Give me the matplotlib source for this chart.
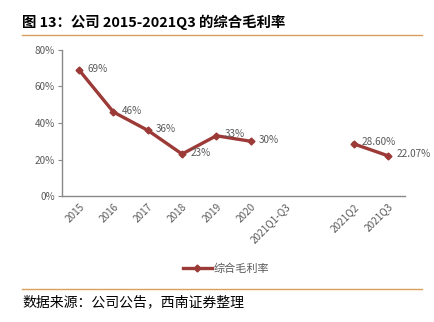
import numpy as np
import matplotlib
matplotlib.use("Agg")
import matplotlib.pyplot as plt
from matplotlib.lines import Line2D

plt.rcParams['font.family'] = ['Noto Sans CJK SC', 'DejaVu Sans']

categories = ["2015", "2016", "2017", "2018", "2019", "2020", "2021Q1-Q3", "", "2021Q2", "2021Q3"]
values = [69, 46, 36, 23, 33, 30, np.nan, np.nan, 28.60, 22.07]
labels = ["69%", "46%", "36%", "23%", "33%", "30%", "", "", "28.60%", "22.07%"]
yticks = [0, 20, 40, 60, 80]
series_name = "综合毛利率"

red = "#9B3A36"
gray = "#595959"

fig = plt.figure(figsize=(4.34, 3.22), dpi=100)
ax = fig.add_axes([62/434, 1-196/322, (405-62)/434, (196-50)/322])

x = np.arange(len(categories))
ax.plot(x, values, color=red, lw=2.4, marker='D', ms=3.5, zorder=3)
for xi, v, lab in zip(x, values, labels):
    if lab:
        ax.annotate(lab, (xi, v), xytext=(6, 1), textcoords='offset points',
                    ha='left', va='center', fontsize=7.2, color=gray)

ax.set_xlim(-0.5, len(categories)-0.5)
ax.set_ylim(0, 80)
ax.set_yticks(yticks)
ax.set_yticklabels([f"{t}%" for t in yticks], fontsize=7.2, color=gray)
ax.set_xticks(x)
ax.set_xticklabels(categories, rotation=45, ha='right', rotation_mode='anchor', fontsize=7.2, color=gray)
ax.tick_params(axis='x', length=0, pad=4)
ax.tick_params(axis='y', length=3, color='#888888', pad=2)
for s in ['top', 'right']:
    ax.spines[s].set_visible(False)
for s in ['left', 'bottom']:
    ax.spines[s].set_color('#888888')
    ax.spines[s].set_linewidth(1)

handle = Line2D([0], [0], color=red, lw=2.4, marker='D', ms=3.5)
fig.legend([handle], [series_name], loc='center', bbox_to_anchor=(226/434, 1-269/322),
           frameon=False, fontsize=8, labelcolor=gray, handlelength=2.6, handletextpad=0.2)

fig.text(22/434, 1-22/322, "图 13：公司 2015-2021Q3 的综合毛利率", fontsize=10.4, fontweight='bold',
         va='center', ha='left', color='black')
fig.add_artist(Line2D([22/434, 422/434], [1-35/322, 1-35/322], color='#D9A05B', lw=1))
fig.add_artist(Line2D([22/434, 422/434], [1-289/322, 1-289/322], color='#D9A05B', lw=1))
fig.text(22/434, 1-302/322, "数据来源：公司公告，西南证券整理", fontsize=10, style='italic',
         va='center', ha='left', color='black')

fig.savefig("out.png", dpi=100)
